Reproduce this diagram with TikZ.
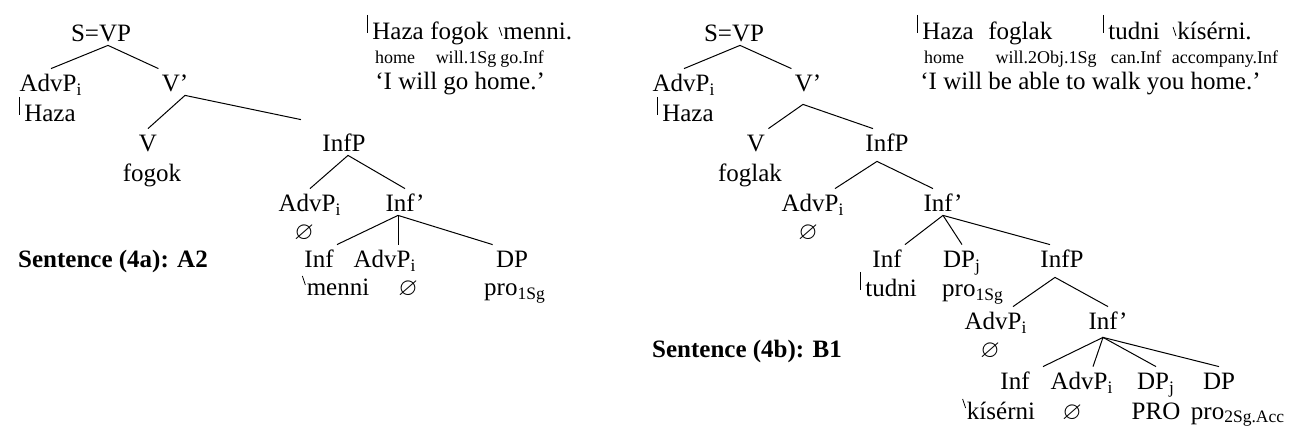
\documentclass[tikz,border=0pt]{standalone}
\usepackage{fontspec}
\setmainfont{Liberation Serif}
\usepackage{amssymb}
\usepackage{tikz}

\newcommand{\glossfont}{\fontsize{9}{11}\selectfont}
\newcommand{\sub}[1]{\textsubscript{#1}}
\newcommand{\nul}{$\varnothing$}
\newcommand{\vtick}[1]{\draw[stress] ([shift={(-2,-25)}]#1.base west) -- ++(0,18);}
\newcommand{\btick}[2][20]{\draw[stress] ([shift={(-1,-#1)}]#2.base west) -- ++(3,9);}

\tikzset{
  cat/.style={anchor=base, inner sep=1.5pt, text height=10pt, text depth=0pt},
  lex/.style={anchor=base, inner sep=1.5pt},
  word/.style={anchor=base west, inner sep=1.5pt},
  gloss/.style={anchor=base, inner sep=1.5pt, font=\glossfont},
  title/.style={anchor=base, inner sep=1.5pt, font=\fontsize{12.5}{15}\selectfont\bfseries},
  branch/.style={line width=0.5pt},
  stress/.style={line width=0.4pt},
}

\begin{document}
\begin{tikzpicture}[x=0.5pt,y=-0.5pt,every node/.style={font=\fontsize{12.5}{15}\selectfont}]
  \useasboundingbox (0,0) rectangle (1304,437);

  % sentence (4a)
  \node[cat] (a-svp) at (101,42) {S=VP};
  \node[cat] (a-advp) at (51,92) {AdvP\sub{i}};
  \node[cat] (a-vbar) at (175,92) {V’};
  \node[lex] (a-haza) at (50,122) {Haza};
  \node[cat] (a-v) at (148,152) {V};
  \node[lex] (a-fogok) at (152,182) {fogok};
  \node[cat] (a-infp) at (344,152) {InfP};
  \node[cat] (a-advp2) at (310,212) {AdvP\sub{i}};
  \node[cat] (a-infbar) at (405,212) {Inf’};
  \node[lex] (a-nul1) at (304,240) {\nul};
  \node[cat] (a-inf) at (319,268) {Inf};
  \node[cat] (a-advp3) at (385,268) {AdvP\sub{i}};
  \node[cat] (a-dp) at (512,268) {DP};
  \node[lex] (a-menni) at (338,296) {menni};
  \node[lex] (a-nul2) at (408,296) {\nul};
  \node[lex] (a-pro) at (515,296) {pro\sub{1Sg}};
  \node[title] (a-title) at (113,268) {Sentence (4a): A2};

  \coordinate (a-j1) at ([xshift=3.5pt]a-svp.south);
  \coordinate (a-j2) at ([xshift=5pt]a-vbar.south);
  \coordinate (a-j3) at ([xshift=2pt]a-infp.south);
  \coordinate (a-j4) at ([xshift=-3.5pt]a-infbar.south);
  \draw[branch] (a-advp.north) -- (a-j1) -- (a-vbar.north west);
  \draw[branch,shorten >=22pt] (a-v.north) -- (a-j2) -- (a-infp.north);
  \draw[branch] (a-advp2.north) -- (a-j3) -- (a-infbar.north);
  \draw[branch] (a-inf.north east) -- (a-j4) -- (a-dp.north west);
  \draw[branch] (a-j4) -- ([xshift=6.5pt]a-advp3.north);
  \vtick{a-haza}
  \btick{a-menni}

  % sentence (4b)
  \node[cat] (b-svp) at (734,42) {S=VP};
  \node[cat] (b-advp) at (684,92) {AdvP\sub{i}};
  \node[cat] (b-vbar) at (808,92) {V’};
  \node[lex] (b-haza) at (688,122) {Haza};
  \node[cat] (b-v) at (756,152) {V};
  \node[cat] (b-infp) at (887,152) {InfP};
  \node[lex] (b-foglak) at (750,182) {foglak};
  \node[cat] (b-advp2) at (813,212) {AdvP\sub{i}};
  \node[cat] (b-infbar) at (943,212) {Inf’};
  \node[lex] (b-nul1) at (808,240) {\nul};
  \node[cat] (b-inf) at (887,268) {Inf};
  \node[cat] (b-dpj) at (962,268) {DP\sub{j}};
  \node[cat] (b-infp2) at (1062,268) {InfP};
  \node[lex] (b-tudni) at (891,297) {tudni};
  \node[lex] (b-pro) at (973,297) {pro\sub{1Sg}};
  \node[cat] (b-advp3) at (996,330) {AdvP\sub{i}};
  \node[cat] (b-infbar2) at (1108,330) {Inf’};
  \node[lex] (b-nul2) at (990,358) {\nul};
  \node[cat] (b-inf2) at (1015,390) {Inf};
  \node[cat] (b-advp4) at (1082,390) {AdvP\sub{i}};
  \node[cat] (b-dpj2) at (1156,390) {DP\sub{j}};
  \node[cat] (b-dp) at (1219,390) {DP};
  \node[lex] (b-kiserni) at (1001,419) {kísérni};
  \node[lex] (b-nul3) at (1072,419) {\nul};
  \node[lex] (b-PRO) at (1156,419) {PRO};
  \node[lex] (b-pro2) at (1238,419) {pro\sub{2Sg.Acc}};
  \node[title] (b-title) at (747,358) {Sentence (4b): B1};

  \coordinate (b-j1) at ([xshift=3pt]b-svp.south);
  \coordinate (b-j2) at ([xshift=-2.5pt,yshift=-4.5pt]b-vbar.south);
  \coordinate (b-j3) at ([xshift=-5pt,yshift=-3pt]b-infp.south);
  \coordinate (b-j4) at (b-infbar.south);
  \coordinate (b-j5) at ([xshift=-3.5pt,yshift=-3pt]b-infp2.south);
  \coordinate (b-j6) at ([xshift=-2.5pt,yshift=-2pt]b-infbar2.south);
  \draw[branch] (b-advp.north) -- (b-j1) -- (b-vbar.north west);
  \draw[branch] (b-v.north east) -- (b-j2) -- ([xshift=-7pt]b-infp.north);
  \draw[branch] ([xshift=11pt]b-advp2.north) -- (b-j3) -- ([xshift=-5pt]b-infbar.north);
  \draw[branch] (b-inf.north east) -- (b-j4) -- ([xshift=-6pt]b-infp2.north);
  \draw[branch] (b-j4) -- (b-dpj.north);
  \draw[branch] ([xshift=8.5pt]b-advp3.north) -- (b-j5) -- (b-infbar2.north);
  \draw[branch] ([xshift=14pt]b-inf2.north) -- (b-j6) -- (b-dp.north);
  \draw[branch] ([xshift=5.5pt]b-advp4.north) -- (b-j6) -- (b-dpj2.north);
  \vtick{b-haza}
  \vtick{b-tudni}
  \btick{b-kiserni}

  % glosses (4a)
  \node[word] (ga-haza) at (369,40) {Haza};
  \node[word] (ga-fogok) at (427,40) {fogok};
  \node[word] (ga-menni) at (500,40) {menni.};
  \node[gloss] (ga-home) at (395,64) {home};
  \node[gloss] (ga-will) at (466,64) {will.1Sg};
  \node[gloss] (ga-go) at (522,64) {go.Inf};
  \node[word] (ga-trans) at (372,90) {‘I will go home.’};
  \vtick{ga-haza}
  \btick[13]{ga-menni}

  % glosses (4b)
  \node[word] (gb-haza) at (919,40) {Haza};
  \node[word] (gb-foglak) at (985,40) {foglak};
  \node[word] (gb-tudni) at (1105,40) {tudni};
  \node[word] (gb-kiserni) at (1174,40) {kísérni.};
  \node[gloss] (gb-home) at (944,64) {home};
  \node[gloss] (gb-will) at (1046,64) {will.2Obj.1Sg};
  \node[gloss] (gb-can) at (1136,64) {can.Inf};
  \node[gloss] (gb-acc) at (1225,64) {accompany.Inf};
  \node[word] (gb-trans) at (917,90) {‘I will be able to walk you home.’};
  \vtick{gb-haza}
  \vtick{gb-tudni}
  \btick[13]{gb-kiserni}
\end{tikzpicture}
\end{document}
